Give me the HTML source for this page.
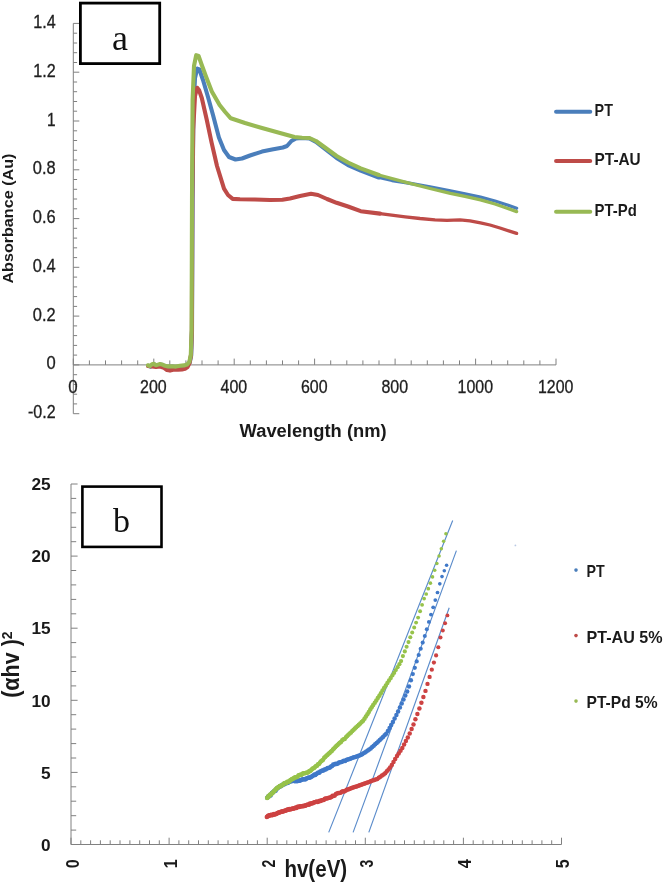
<!DOCTYPE html>
<html><head><meta charset="utf-8"><title>UV-Vis absorbance and Tauc plots</title>
<style>html,body{margin:0;padding:0;background:#fff}body{width:664px;height:883px;overflow:hidden}svg{display:block;filter:blur(0.45px)}text{font-family:"Liberation Sans",sans-serif;fill:#202020;stroke:#202020;stroke-width:0.3px}.b{font-weight:bold;fill:#1a1a1a;stroke:none}.s{font-family:"Liberation Serif",serif;fill:#111;stroke:none}</style></head><body>
<svg width="664" height="883" viewBox="0 0 664 883">
<rect width="664" height="883" fill="#fff"/>
<g stroke="#808080" stroke-width="1" fill="none">
<path d="M73.3 23.4V413.7M73.3 364.9H556.0"/>
<path d="M73.3 413.7h6M73.3 403.9h3.8M73.3 394.2h3.8M73.3 384.4h3.8M73.3 374.7h3.8M73.3 364.9h6M73.3 355.1h3.8M73.3 345.4h3.8M73.3 335.6h3.8M73.3 325.9h3.8M73.3 316.1h6M73.3 306.4h3.8M73.3 296.6h3.8M73.3 286.9h3.8M73.3 277.1h3.8M73.3 267.3h6M73.3 257.6h3.8M73.3 247.8h3.8M73.3 238.1h3.8M73.3 228.3h3.8M73.3 218.6h6M73.3 208.8h3.8M73.3 199.0h3.8M73.3 189.3h3.8M73.3 179.5h3.8M73.3 169.8h6M73.3 160.0h3.8M73.3 150.3h3.8M73.3 140.5h3.8M73.3 130.8h3.8M73.3 121.0h6M73.3 111.2h3.8M73.3 101.5h3.8M73.3 91.7h3.8M73.3 82.0h3.8M73.3 72.2h6M73.3 62.5h3.8M73.3 52.7h3.8M73.3 43.0h3.8M73.3 33.2h3.8M73.3 23.4h6M73.3 364.9v-6.3M89.4 364.9v-4.5M105.5 364.9v-4.5M121.6 364.9v-4.5M137.7 364.9v-4.5M153.8 364.9v-6.3M169.8 364.9v-4.5M185.9 364.9v-4.5M202.0 364.9v-4.5M218.1 364.9v-4.5M234.2 364.9v-6.3M250.3 364.9v-4.5M266.4 364.9v-4.5M282.5 364.9v-4.5M298.6 364.9v-4.5M314.6 364.9v-6.3M330.7 364.9v-4.5M346.8 364.9v-4.5M362.9 364.9v-4.5M379.0 364.9v-4.5M395.1 364.9v-6.3M411.2 364.9v-4.5M427.3 364.9v-4.5M443.4 364.9v-4.5M459.5 364.9v-4.5M475.6 364.9v-6.3M491.6 364.9v-4.5M507.7 364.9v-4.5M523.8 364.9v-4.5M539.9 364.9v-4.5M556.0 364.9v-6.3"/></g>
<text x="33.2" y="27.9" font-size="17.5" textLength="22.4" lengthAdjust="spacingAndGlyphs">1.4</text>
<text x="33.2" y="76.7" font-size="17.5" textLength="22.4" lengthAdjust="spacingAndGlyphs">1.2</text>
<text x="47.0" y="125.5" font-size="17.5" textLength="8.6" lengthAdjust="spacingAndGlyphs">1</text>
<text x="32.8" y="174.3" font-size="17.5" textLength="22.8" lengthAdjust="spacingAndGlyphs">0.8</text>
<text x="32.8" y="223.1" font-size="17.5" textLength="22.8" lengthAdjust="spacingAndGlyphs">0.6</text>
<text x="32.8" y="271.8" font-size="17.5" textLength="22.8" lengthAdjust="spacingAndGlyphs">0.4</text>
<text x="32.8" y="320.6" font-size="17.5" textLength="22.8" lengthAdjust="spacingAndGlyphs">0.2</text>
<text x="46.4" y="369.4" font-size="17.5" textLength="9.2" lengthAdjust="spacingAndGlyphs">0</text>
<text x="28.0" y="418.2" font-size="17.5" textLength="27.6" lengthAdjust="spacingAndGlyphs">-0.2</text>
<text x="68.3" y="393.1" font-size="18" textLength="9.4" lengthAdjust="spacingAndGlyphs">0</text>
<text x="140.1" y="393.1" font-size="18" textLength="26.6" lengthAdjust="spacingAndGlyphs">200</text>
<text x="220.6" y="393.1" font-size="18" textLength="26.6" lengthAdjust="spacingAndGlyphs">400</text>
<text x="301.0" y="393.1" font-size="18" textLength="26.6" lengthAdjust="spacingAndGlyphs">600</text>
<text x="381.5" y="393.1" font-size="18" textLength="26.6" lengthAdjust="spacingAndGlyphs">800</text>
<text x="457.6" y="393.1" font-size="18" textLength="35.4" lengthAdjust="spacingAndGlyphs">1000</text>
<text x="538.0" y="393.1" font-size="18" textLength="35.4" lengthAdjust="spacingAndGlyphs">1200</text>
<text class="b" x="313.1" y="436.6" font-size="18" text-anchor="middle" textLength="147" lengthAdjust="spacingAndGlyphs">Wavelength (nm)</text>
<text class="b" transform="translate(12.8 218.6) rotate(-90)" font-size="14.6" text-anchor="middle" textLength="130" lengthAdjust="spacingAndGlyphs">Absorbance (Au)</text>
<g fill="none" stroke-width="3.6" stroke-linejoin="round" stroke-linecap="round">
<path stroke="#4a7ebb" stroke-width="4.1" d="M148.4 365.9 L150.4 366.6 L152.4 364.9 L154.4 364.4 L156.4 365.9 L158.4 365.2 L160.4 364.6 L162.4 365.0 L165.4 366.4 L168.4 367.0 L172.4 366.9 L176.4 367.2 L180.4 366.4 L184.4 366.0 L187.4 365.2 L189.7 362.6 L191.2 355.6 L192.0 330.6 L192.6 200.0 L193.4 110.0 L195.0 78.0 L197.2 68.6 L199.4 69.5 L203.0 80.0 L208.0 97.0 L213.0 115.0 L218.9 137.5 L224.0 150.0 L229.0 157.0 L235.5 159.5 L242.0 158.5 L250.0 155.5 L262.0 151.6 L272.0 149.5 L282.9 147.5 L287.0 146.0 L291.4 141.0 L296.0 138.5 L302.0 138.0 L309.5 138.5 L316.0 142.0 L325.0 149.0 L336.6 158.0 L348.0 165.0 L360.7 170.5 L378.8 177.5"/>
<path stroke="#4a7ebb" stroke-width="3.3" d="M378.8 177.5 L392.0 180.5 L405.2 182.5 L430.0 186.8 L450.4 190.8 L465.0 193.8 L480.5 197.2 L495.0 201.0 L505.0 204.2 L516.6 208.2"/>
<path stroke="#be4b48" stroke-width="4.1" d="M148.0 366.0 L152.0 366.5 L156.0 367.0 L160.0 366.5 L164.0 367.8 L167.0 370.0 L170.0 370.6 L174.0 369.5 L178.0 369.8 L182.0 369.4 L185.0 368.8 L187.5 367.0 L189.5 363.0 L191.0 355.0 L191.9 330.0 L192.3 200.0 L193.2 130.0 L195.0 96.0 L197.2 87.8 L199.0 90.0 L201.8 98.0 L206.8 120.0 L211.6 142.6 L217.0 166.0 L224.0 188.7 L228.0 195.0 L232.7 198.9 L240.0 199.3 L255.0 199.5 L270.0 200.0 L282.4 199.8 L290.0 198.5 L300.0 196.0 L311.0 193.8 L318.0 195.0 L327.0 199.0 L336.6 202.8 L348.0 206.5 L360.7 211.2 L380.0 213.6"/>
<path stroke="#be4b48" stroke-width="3.3" d="M380.0 213.6 L405.2 216.8 L420.0 218.5 L435.0 219.8 L447.0 220.3 L460.0 219.8 L470.0 220.8 L480.5 222.8 L490.0 225.0 L500.0 228.0 L516.6 233.4"/>
<path stroke="#98b954" stroke-width="4.1" d="M148.0 365.3 L150.0 366.0 L152.0 364.3 L154.0 363.8 L156.0 365.3 L158.0 364.6 L160.0 364.0 L162.0 364.4 L165.0 365.8 L168.0 366.4 L172.0 366.3 L176.0 366.6 L180.0 365.8 L184.0 365.4 L187.0 364.6 L189.3 362.0 L190.8 355.0 L191.6 330.0 L192.0 200.0 L192.6 100.0 L194.0 66.0 L196.2 55.2 L198.6 56.0 L201.4 64.0 L205.8 76.0 L211.8 91.4 L219.6 105.0 L225.2 112.0 L230.8 118.3 L245.0 123.0 L262.0 128.0 L280.0 133.0 L294.5 137.0 L302.0 137.8 L309.5 138.0 L316.0 141.0 L325.0 147.5 L336.6 156.0 L348.0 162.5 L360.7 168.4 L378.8 175.0"/>
<path stroke="#98b954" stroke-width="3.3" d="M378.8 175.0 L405.2 182.2 L430.0 188.5 L450.4 193.3 L465.0 196.3 L480.5 199.8 L495.0 204.0 L505.0 207.5 L516.6 211.6"/>
<path stroke="#4a7ebb" stroke-width="4.1" d="M556.1 111.8H590.2"/>
<path stroke="#be4b48" stroke-width="4.1" d="M556.1 161H590.2"/>
<path stroke="#98b954" stroke-width="4.1" d="M556.1 211.8H590.2"/>
</g>
<text class="b" x="594.6" y="115.8" font-size="17" textLength="18.3" lengthAdjust="spacingAndGlyphs">PT</text>
<text class="b" x="594.6" y="165.4" font-size="17" textLength="46.1" lengthAdjust="spacingAndGlyphs">PT-AU</text>
<text class="b" x="594.6" y="215.6" font-size="17" textLength="42.2" lengthAdjust="spacingAndGlyphs">PT-Pd</text>
<rect x="80.4" y="3.1" width="79.3" height="60.5" fill="#fff" stroke="#000" stroke-width="2.8"/>
<text class="s" x="120" y="49.7" font-size="36" text-anchor="middle">a</text>
<g stroke="#808080" stroke-width="1" fill="none">
<path d="M71.0 484.0V844.5H561.5"/>
<path d="M71.0 844.5h6.6M71.0 830.1h5.2M71.0 815.7h5.2M71.0 801.2h5.2M71.0 786.8h5.2M71.0 772.4h6.6M71.0 758.0h5.2M71.0 743.6h5.2M71.0 729.1h5.2M71.0 714.7h5.2M71.0 700.3h6.6M71.0 685.9h5.2M71.0 671.5h5.2M71.0 657.0h5.2M71.0 642.6h5.2M71.0 628.2h6.6M71.0 613.8h5.2M71.0 599.4h5.2M71.0 584.9h5.2M71.0 570.5h5.2M71.0 556.1h6.6M71.0 541.7h5.2M71.0 527.3h5.2M71.0 512.8h5.2M71.0 498.4h5.2M71.0 484.0h6.6M71.0 844.5v-6.8M80.8 844.5v-4.2M90.6 844.5v-4.2M100.4 844.5v-4.2M110.2 844.5v-4.2M120.0 844.5v-4.2M129.9 844.5v-4.2M139.7 844.5v-4.2M149.5 844.5v-4.2M159.3 844.5v-4.2M169.1 844.5v-6.8M178.9 844.5v-4.2M188.7 844.5v-4.2M198.5 844.5v-4.2M208.3 844.5v-4.2M218.1 844.5v-4.2M228.0 844.5v-4.2M237.8 844.5v-4.2M247.6 844.5v-4.2M257.4 844.5v-4.2M267.2 844.5v-6.8M277.0 844.5v-4.2M286.8 844.5v-4.2M296.6 844.5v-4.2M306.4 844.5v-4.2M316.2 844.5v-4.2M326.1 844.5v-4.2M335.9 844.5v-4.2M345.7 844.5v-4.2M355.5 844.5v-4.2M365.3 844.5v-6.8M375.1 844.5v-4.2M384.9 844.5v-4.2M394.7 844.5v-4.2M404.5 844.5v-4.2M414.3 844.5v-4.2M424.2 844.5v-4.2M434.0 844.5v-4.2M443.8 844.5v-4.2M453.6 844.5v-4.2M463.4 844.5v-6.8M473.2 844.5v-4.2M483.0 844.5v-4.2M492.8 844.5v-4.2M502.6 844.5v-4.2M512.5 844.5v-4.2M522.3 844.5v-4.2M532.1 844.5v-4.2M541.9 844.5v-4.2M551.7 844.5v-4.2M561.5 844.5v-6.8"/></g>
<text class="b" x="41.0" y="850.7" font-size="17" textLength="9.6" lengthAdjust="spacingAndGlyphs">0</text>
<text class="b" x="41.0" y="778.6" font-size="17" textLength="9.6" lengthAdjust="spacingAndGlyphs">5</text>
<text class="b" x="31.4" y="706.5" font-size="17" textLength="19.2" lengthAdjust="spacingAndGlyphs">10</text>
<text class="b" x="31.4" y="634.4" font-size="17" textLength="19.2" lengthAdjust="spacingAndGlyphs">15</text>
<text class="b" x="31.4" y="562.3" font-size="17" textLength="19.2" lengthAdjust="spacingAndGlyphs">20</text>
<text class="b" x="31.4" y="490.2" font-size="17" textLength="19.2" lengthAdjust="spacingAndGlyphs">25</text>
<text class="b" transform="translate(79.4 863.7) rotate(-90) scale(0.9 1)" font-size="18" text-anchor="middle">0</text>
<text class="b" transform="translate(176.5 863.7) rotate(-90) scale(0.9 1)" font-size="18" text-anchor="middle">1</text>
<text class="b" transform="translate(274.6 863.7) rotate(-90) scale(0.78 1)" font-size="18" text-anchor="middle">2</text>
<text class="b" transform="translate(372.7 863.7) rotate(-90) scale(0.78 1)" font-size="18" text-anchor="middle">3</text>
<text class="b" transform="translate(470.8 863.7) rotate(-90) scale(0.9 1)" font-size="18" text-anchor="middle">4</text>
<text class="b" transform="translate(568.9 863.7) rotate(-90) scale(0.9 1)" font-size="18" text-anchor="middle">5</text>
<text class="b" x="284.4" y="876.8" font-size="23" textLength="62.8" lengthAdjust="spacingAndGlyphs">hv(eV)</text>
<text class="b" transform="translate(19.4 697.8) rotate(-90)" font-size="24" textLength="58.6" lengthAdjust="spacingAndGlyphs">(αhv )</text>
<text class="b" transform="translate(12.2 639.3) rotate(-90)" font-size="15" textLength="7.7" lengthAdjust="spacingAndGlyphs">2</text>
<g stroke="#5b8ccb" stroke-width="1.15" fill="none"><path d="M452.7 520.5L328.7 832.4M456.4 550.6L353.1 832.4M449.2 607.8L368.8 832.4"/></g>
<g fill="#3f78c8"><circle cx="446.6" cy="565.3" r="1.77"/><circle cx="444.3" cy="570.7" r="1.79"/><circle cx="442.0" cy="576.6" r="1.81"/><circle cx="439.8" cy="583.8" r="1.83"/><circle cx="437.5" cy="592.5" r="1.87"/><circle cx="435.3" cy="600.1" r="1.89"/><circle cx="433.2" cy="607.3" r="1.92"/><circle cx="431.0" cy="614.6" r="1.95"/><circle cx="428.9" cy="621.9" r="1.97"/><circle cx="426.8" cy="629.2" r="2.0"/><circle cx="424.8" cy="636.0" r="2.02"/><circle cx="422.7" cy="642.6" r="2.04"/><circle cx="420.7" cy="648.8" r="2.07"/><circle cx="418.7" cy="655.0" r="2.09"/><circle cx="416.7" cy="661.4" r="2.11"/><circle cx="414.8" cy="667.8" r="2.13"/><circle cx="412.8" cy="674.1" r="2.16"/><circle cx="410.9" cy="680.3" r="2.18"/><circle cx="409.0" cy="686.5" r="2.2"/><circle cx="407.2" cy="691.5" r="2.22"/><circle cx="405.3" cy="695.4" r="2.23"/><circle cx="403.5" cy="699.4" r="2.25"/><circle cx="401.7" cy="703.5" r="2.25"/><circle cx="399.9" cy="707.5" r="2.25"/><circle cx="398.1" cy="711.5" r="2.25"/><circle cx="396.4" cy="715.0" r="2.25"/><circle cx="394.6" cy="718.4" r="2.25"/><circle cx="392.9" cy="721.9" r="2.25"/><circle cx="391.2" cy="725.0" r="2.25"/><circle cx="389.6" cy="728.0" r="2.25"/><circle cx="387.9" cy="730.9" r="2.25"/><circle cx="386.2" cy="733.7" r="2.25"/><circle cx="384.6" cy="735.3" r="2.25"/><circle cx="383.0" cy="736.9" r="2.25"/><circle cx="381.4" cy="738.5" r="2.25"/><circle cx="379.8" cy="740.0" r="2.25"/><circle cx="378.3" cy="741.5" r="2.25"/><circle cx="376.7" cy="742.9" r="2.25"/><circle cx="375.2" cy="744.3" r="2.25"/><circle cx="373.7" cy="745.7" r="2.25"/><circle cx="372.2" cy="747.1" r="2.25"/><circle cx="370.7" cy="748.4" r="2.25"/><circle cx="369.2" cy="749.4" r="2.25"/><circle cx="367.8" cy="750.5" r="2.25"/><circle cx="366.3" cy="751.5" r="2.25"/><circle cx="364.9" cy="752.5" r="2.25"/><circle cx="363.5" cy="753.3" r="2.25"/><circle cx="362.1" cy="754.2" r="2.25"/><circle cx="360.7" cy="755.0" r="2.25"/><circle cx="359.3" cy="755.5" r="2.25"/><circle cx="358.0" cy="755.9" r="2.25"/><circle cx="356.6" cy="756.4" r="2.25"/><circle cx="355.3" cy="756.9" r="2.25"/><circle cx="354.0" cy="757.3" r="2.25"/><circle cx="352.7" cy="757.8" r="2.25"/><circle cx="351.4" cy="758.3" r="2.25"/><circle cx="350.1" cy="758.7" r="2.25"/><circle cx="348.8" cy="759.2" r="2.25"/><circle cx="347.5" cy="759.6" r="2.25"/><circle cx="346.3" cy="760.1" r="2.25"/><circle cx="345.1" cy="760.9" r="2.25"/><circle cx="343.8" cy="760.7" r="2.25"/><circle cx="342.6" cy="761.6" r="2.25"/><circle cx="341.4" cy="761.9" r="2.25"/><circle cx="340.2" cy="762.3" r="2.25"/><circle cx="339.0" cy="762.6" r="2.25"/><circle cx="337.8" cy="763.4" r="2.25"/><circle cx="336.7" cy="763.9" r="2.25"/><circle cx="335.5" cy="763.8" r="2.25"/><circle cx="334.4" cy="764.6" r="2.25"/><circle cx="333.2" cy="764.6" r="2.25"/><circle cx="332.1" cy="766.0" r="2.25"/><circle cx="331.0" cy="766.5" r="2.25"/><circle cx="329.9" cy="767.6" r="2.25"/><circle cx="328.8" cy="768.0" r="2.25"/><circle cx="327.7" cy="768.0" r="2.25"/><circle cx="326.6" cy="768.7" r="2.25"/><circle cx="325.6" cy="769.6" r="2.25"/><circle cx="324.5" cy="769.4" r="2.25"/><circle cx="323.4" cy="770.4" r="2.25"/><circle cx="322.4" cy="770.6" r="2.25"/><circle cx="321.4" cy="771.1" r="2.25"/><circle cx="320.3" cy="771.5" r="2.25"/><circle cx="319.3" cy="772.8" r="2.25"/><circle cx="318.3" cy="772.6" r="2.25"/><circle cx="317.3" cy="773.3" r="2.25"/><circle cx="316.3" cy="773.9" r="2.25"/><circle cx="315.3" cy="774.9" r="2.25"/><circle cx="314.4" cy="774.5" r="2.25"/><circle cx="313.4" cy="775.4" r="2.25"/><circle cx="312.4" cy="776.0" r="2.25"/><circle cx="311.5" cy="776.8" r="2.25"/><circle cx="310.5" cy="777.2" r="2.25"/><circle cx="309.6" cy="777.7" r="2.25"/><circle cx="308.6" cy="777.5" r="2.25"/><circle cx="307.7" cy="778.1" r="2.25"/><circle cx="306.8" cy="778.3" r="2.25"/><circle cx="305.9" cy="779.1" r="2.25"/><circle cx="305.0" cy="779.5" r="2.25"/><circle cx="304.1" cy="778.9" r="2.25"/><circle cx="303.2" cy="779.2" r="2.25"/><circle cx="302.3" cy="779.5" r="2.25"/><circle cx="301.4" cy="779.8" r="2.25"/><circle cx="300.6" cy="780.3" r="2.25"/><circle cx="299.7" cy="780.7" r="2.25"/><circle cx="298.9" cy="780.6" r="2.25"/><circle cx="298.0" cy="780.5" r="2.25"/><circle cx="297.2" cy="781.2" r="2.25"/><circle cx="296.3" cy="780.9" r="2.25"/><circle cx="295.5" cy="781.0" r="2.25"/><circle cx="294.7" cy="781.2" r="2.25"/><circle cx="293.8" cy="780.8" r="2.25"/><circle cx="293.0" cy="780.8" r="2.25"/><circle cx="292.2" cy="781.0" r="2.25"/><circle cx="291.4" cy="781.2" r="2.25"/><circle cx="290.6" cy="780.6" r="2.25"/><circle cx="289.8" cy="781.8" r="2.25"/><circle cx="289.1" cy="782.1" r="2.25"/><circle cx="288.3" cy="782.6" r="2.25"/><circle cx="287.5" cy="782.9" r="2.25"/><circle cx="286.7" cy="782.8" r="2.25"/><circle cx="286.0" cy="783.3" r="2.25"/><circle cx="285.2" cy="783.3" r="2.25"/><circle cx="284.5" cy="784.3" r="2.25"/><circle cx="283.7" cy="784.1" r="2.25"/><circle cx="283.0" cy="784.6" r="2.25"/><circle cx="282.2" cy="785.2" r="2.25"/><circle cx="281.5" cy="785.6" r="2.25"/><circle cx="280.8" cy="786.2" r="2.25"/><circle cx="280.1" cy="786.3" r="2.25"/><circle cx="279.3" cy="786.7" r="2.25"/><circle cx="278.6" cy="787.3" r="2.25"/><circle cx="277.9" cy="787.7" r="2.25"/><circle cx="277.2" cy="788.6" r="2.25"/><circle cx="276.5" cy="788.8" r="2.25"/><circle cx="275.8" cy="790.4" r="2.25"/><circle cx="275.1" cy="790.7" r="2.25"/><circle cx="274.5" cy="790.8" r="2.25"/><circle cx="273.8" cy="791.5" r="2.25"/><circle cx="273.1" cy="792.2" r="2.25"/><circle cx="272.4" cy="792.8" r="2.25"/><circle cx="271.8" cy="793.1" r="2.25"/><circle cx="271.1" cy="794.5" r="2.25"/><circle cx="270.5" cy="795.4" r="2.25"/><circle cx="269.8" cy="795.4" r="2.25"/><circle cx="269.2" cy="796.1" r="2.25"/><circle cx="268.5" cy="796.3" r="2.25"/><circle cx="267.9" cy="796.9" r="2.25"/><circle cx="267.2" cy="797.8" r="2.25"/></g>
<g fill="#cd4242"><circle cx="447.4" cy="615.4" r="1.95"/><circle cx="445.1" cy="623.3" r="1.98"/><circle cx="442.8" cy="630.6" r="2.0"/><circle cx="440.5" cy="637.5" r="2.03"/><circle cx="438.3" cy="647.3" r="2.06"/><circle cx="436.1" cy="655.4" r="2.09"/><circle cx="433.9" cy="662.6" r="2.12"/><circle cx="431.8" cy="669.7" r="2.14"/><circle cx="429.6" cy="676.9" r="2.17"/><circle cx="427.5" cy="683.9" r="2.19"/><circle cx="425.5" cy="690.9" r="2.22"/><circle cx="423.4" cy="697.1" r="2.24"/><circle cx="421.4" cy="702.8" r="2.25"/><circle cx="419.4" cy="708.5" r="2.25"/><circle cx="417.4" cy="714.0" r="2.25"/><circle cx="415.4" cy="719.2" r="2.25"/><circle cx="413.5" cy="724.4" r="2.25"/><circle cx="411.6" cy="728.9" r="2.25"/><circle cx="409.7" cy="733.4" r="2.25"/><circle cx="407.8" cy="737.4" r="2.25"/><circle cx="405.9" cy="741.0" r="2.25"/><circle cx="404.1" cy="744.6" r="2.25"/><circle cx="402.3" cy="748.0" r="2.25"/><circle cx="400.5" cy="750.7" r="2.25"/><circle cx="398.7" cy="753.4" r="2.25"/><circle cx="397.0" cy="756.0" r="2.25"/><circle cx="395.2" cy="759.0" r="2.25"/><circle cx="393.5" cy="762.1" r="2.25"/><circle cx="391.8" cy="765.0" r="2.25"/><circle cx="390.1" cy="767.6" r="2.25"/><circle cx="388.5" cy="769.5" r="2.25"/><circle cx="386.8" cy="771.3" r="2.25"/><circle cx="385.2" cy="773.2" r="2.25"/><circle cx="383.6" cy="774.5" r="2.25"/><circle cx="382.0" cy="775.6" r="2.25"/><circle cx="380.4" cy="776.7" r="2.25"/><circle cx="378.8" cy="777.8" r="2.25"/><circle cx="377.3" cy="778.9" r="2.25"/><circle cx="375.7" cy="779.4" r="2.25"/><circle cx="374.2" cy="780.0" r="2.25"/><circle cx="372.7" cy="780.6" r="2.25"/><circle cx="371.2" cy="781.1" r="2.25"/><circle cx="369.7" cy="781.7" r="2.25"/><circle cx="368.3" cy="782.2" r="2.25"/><circle cx="366.8" cy="782.8" r="2.25"/><circle cx="365.4" cy="783.3" r="2.25"/><circle cx="364.0" cy="783.8" r="2.25"/><circle cx="362.6" cy="784.3" r="2.25"/><circle cx="361.2" cy="784.8" r="2.25"/><circle cx="359.8" cy="785.3" r="2.25"/><circle cx="358.5" cy="785.7" r="2.25"/><circle cx="357.1" cy="786.2" r="2.25"/><circle cx="355.8" cy="786.7" r="2.25"/><circle cx="354.4" cy="787.1" r="2.25"/><circle cx="353.1" cy="787.6" r="2.25"/><circle cx="351.8" cy="788.0" r="2.25"/><circle cx="350.5" cy="788.5" r="2.25"/><circle cx="349.2" cy="788.9" r="2.25"/><circle cx="348.0" cy="789.4" r="2.25"/><circle cx="346.7" cy="789.8" r="2.25"/><circle cx="345.5" cy="790.8" r="2.25"/><circle cx="344.2" cy="791.4" r="2.25"/><circle cx="343.0" cy="791.3" r="2.25"/><circle cx="341.8" cy="791.8" r="2.25"/><circle cx="340.6" cy="792.8" r="2.25"/><circle cx="339.4" cy="793.1" r="2.25"/><circle cx="338.2" cy="793.1" r="2.25"/><circle cx="337.1" cy="793.5" r="2.25"/><circle cx="335.9" cy="794.1" r="2.25"/><circle cx="334.8" cy="795.5" r="2.25"/><circle cx="333.6" cy="795.9" r="2.25"/><circle cx="332.5" cy="795.7" r="2.25"/><circle cx="331.4" cy="797.0" r="2.25"/><circle cx="330.3" cy="797.6" r="2.25"/><circle cx="329.2" cy="797.8" r="2.25"/><circle cx="328.1" cy="798.0" r="2.25"/><circle cx="327.0" cy="798.6" r="2.25"/><circle cx="325.9" cy="798.5" r="2.25"/><circle cx="324.9" cy="798.7" r="2.25"/><circle cx="323.8" cy="800.1" r="2.25"/><circle cx="322.8" cy="800.1" r="2.25"/><circle cx="321.7" cy="800.3" r="2.25"/><circle cx="320.7" cy="801.1" r="2.25"/><circle cx="319.7" cy="800.8" r="2.25"/><circle cx="318.7" cy="801.6" r="2.25"/><circle cx="317.7" cy="801.9" r="2.25"/><circle cx="316.7" cy="801.6" r="2.25"/><circle cx="315.7" cy="801.9" r="2.25"/><circle cx="314.7" cy="802.3" r="2.25"/><circle cx="313.7" cy="802.5" r="2.25"/><circle cx="312.8" cy="803.2" r="2.25"/><circle cx="311.8" cy="803.2" r="2.25"/><circle cx="310.8" cy="803.7" r="2.25"/><circle cx="309.9" cy="803.6" r="2.25"/><circle cx="309.0" cy="804.8" r="2.25"/><circle cx="308.0" cy="804.5" r="2.25"/><circle cx="307.1" cy="804.8" r="2.25"/><circle cx="306.2" cy="805.2" r="2.25"/><circle cx="305.3" cy="805.8" r="2.25"/><circle cx="304.4" cy="805.5" r="2.25"/><circle cx="303.5" cy="806.3" r="2.25"/><circle cx="302.6" cy="806.0" r="2.25"/><circle cx="301.7" cy="806.3" r="2.25"/><circle cx="300.9" cy="806.5" r="2.25"/><circle cx="300.0" cy="806.2" r="2.25"/><circle cx="299.1" cy="806.9" r="2.25"/><circle cx="298.3" cy="806.8" r="2.25"/><circle cx="297.5" cy="806.8" r="2.25"/><circle cx="296.6" cy="807.9" r="2.25"/><circle cx="295.8" cy="807.4" r="2.25"/><circle cx="294.9" cy="808.0" r="2.25"/><circle cx="294.1" cy="808.5" r="2.25"/><circle cx="293.3" cy="808.5" r="2.25"/><circle cx="292.5" cy="808.4" r="2.25"/><circle cx="291.7" cy="808.9" r="2.25"/><circle cx="290.9" cy="809.1" r="2.25"/><circle cx="290.1" cy="809.6" r="2.25"/><circle cx="289.3" cy="809.0" r="2.25"/><circle cx="288.5" cy="809.7" r="2.25"/><circle cx="287.8" cy="809.6" r="2.25"/><circle cx="287.0" cy="809.8" r="2.25"/><circle cx="286.2" cy="810.6" r="2.25"/><circle cx="285.5" cy="810.5" r="2.25"/><circle cx="284.7" cy="810.7" r="2.25"/><circle cx="284.0" cy="811.1" r="2.25"/><circle cx="283.2" cy="811.5" r="2.25"/><circle cx="282.5" cy="811.3" r="2.25"/><circle cx="281.8" cy="811.7" r="2.25"/><circle cx="281.0" cy="811.8" r="2.25"/><circle cx="280.3" cy="812.1" r="2.25"/><circle cx="279.6" cy="812.5" r="2.25"/><circle cx="278.9" cy="812.5" r="2.25"/><circle cx="278.2" cy="812.8" r="2.25"/><circle cx="277.5" cy="813.0" r="2.25"/><circle cx="276.8" cy="813.8" r="2.25"/><circle cx="276.1" cy="813.7" r="2.25"/><circle cx="275.4" cy="814.2" r="2.25"/><circle cx="274.7" cy="814.5" r="2.25"/><circle cx="274.0" cy="813.9" r="2.25"/><circle cx="273.3" cy="814.5" r="2.25"/><circle cx="272.7" cy="815.1" r="2.25"/><circle cx="272.0" cy="815.3" r="2.25"/><circle cx="271.3" cy="814.7" r="2.25"/><circle cx="270.7" cy="814.9" r="2.25"/><circle cx="270.0" cy="815.5" r="2.25"/><circle cx="269.4" cy="815.3" r="2.25"/><circle cx="268.7" cy="815.7" r="2.25"/><circle cx="268.1" cy="815.7" r="2.25"/><circle cx="267.5" cy="816.6" r="2.25"/><circle cx="266.8" cy="816.9" r="2.25"/></g>
<g fill="#96c24a"><circle cx="445.9" cy="533.7" r="1.75"/><circle cx="443.6" cy="541.3" r="1.75"/><circle cx="441.3" cy="548.7" r="1.75"/><circle cx="439.1" cy="556.1" r="1.75"/><circle cx="436.9" cy="563.4" r="1.76"/><circle cx="434.7" cy="570.3" r="1.79"/><circle cx="432.5" cy="576.9" r="1.81"/><circle cx="430.4" cy="583.2" r="1.83"/><circle cx="428.3" cy="588.7" r="1.85"/><circle cx="426.2" cy="594.0" r="1.87"/><circle cx="424.1" cy="598.6" r="1.89"/><circle cx="422.1" cy="604.8" r="1.91"/><circle cx="420.1" cy="611.3" r="1.93"/><circle cx="418.1" cy="617.6" r="1.96"/><circle cx="416.1" cy="622.6" r="1.97"/><circle cx="414.2" cy="627.6" r="1.99"/><circle cx="412.2" cy="632.5" r="2.01"/><circle cx="410.3" cy="637.3" r="2.03"/><circle cx="408.5" cy="642.1" r="2.04"/><circle cx="406.6" cy="646.8" r="2.06"/><circle cx="404.8" cy="651.4" r="2.08"/><circle cx="402.9" cy="656.1" r="2.09"/><circle cx="401.1" cy="661.1" r="2.11"/><circle cx="399.4" cy="664.2" r="2.12"/><circle cx="397.6" cy="667.2" r="2.13"/><circle cx="395.8" cy="670.1" r="2.14"/><circle cx="394.1" cy="672.9" r="2.15"/><circle cx="392.4" cy="675.4" r="2.16"/><circle cx="390.7" cy="678.0" r="2.17"/><circle cx="389.0" cy="680.5" r="2.18"/><circle cx="387.4" cy="683.0" r="2.19"/><circle cx="385.8" cy="685.5" r="2.2"/><circle cx="384.1" cy="687.9" r="2.21"/><circle cx="382.5" cy="690.5" r="2.22"/><circle cx="380.9" cy="693.2" r="2.23"/><circle cx="379.4" cy="695.7" r="2.23"/><circle cx="377.8" cy="698.1" r="2.24"/><circle cx="376.3" cy="700.4" r="2.25"/><circle cx="374.8" cy="702.7" r="2.25"/><circle cx="373.2" cy="705.0" r="2.25"/><circle cx="371.7" cy="707.3" r="2.25"/><circle cx="370.3" cy="709.6" r="2.25"/><circle cx="368.8" cy="711.9" r="2.25"/><circle cx="367.4" cy="714.3" r="2.25"/><circle cx="365.9" cy="716.6" r="2.25"/><circle cx="364.5" cy="718.8" r="2.25"/><circle cx="363.1" cy="720.7" r="2.25"/><circle cx="361.7" cy="722.0" r="2.25"/><circle cx="360.3" cy="723.4" r="2.25"/><circle cx="358.9" cy="724.7" r="2.25"/><circle cx="357.6" cy="726.0" r="2.25"/><circle cx="356.2" cy="727.3" r="2.25"/><circle cx="354.9" cy="728.6" r="2.25"/><circle cx="353.6" cy="729.8" r="2.25"/><circle cx="352.3" cy="731.1" r="2.25"/><circle cx="351.0" cy="732.4" r="2.25"/><circle cx="349.7" cy="733.6" r="2.25"/><circle cx="348.4" cy="734.8" r="2.25"/><circle cx="347.2" cy="736.0" r="2.25"/><circle cx="345.9" cy="737.3" r="2.25"/><circle cx="344.7" cy="738.9" r="2.25"/><circle cx="343.5" cy="739.3" r="2.25"/><circle cx="342.2" cy="740.3" r="2.25"/><circle cx="341.0" cy="741.9" r="2.25"/><circle cx="339.8" cy="742.8" r="2.25"/><circle cx="338.7" cy="743.8" r="2.25"/><circle cx="337.5" cy="744.9" r="2.25"/><circle cx="336.3" cy="745.9" r="2.25"/><circle cx="335.2" cy="747.2" r="2.25"/><circle cx="334.0" cy="748.4" r="2.25"/><circle cx="332.9" cy="749.5" r="2.25"/><circle cx="331.8" cy="751.1" r="2.25"/><circle cx="330.7" cy="751.7" r="2.25"/><circle cx="329.6" cy="753.0" r="2.25"/><circle cx="328.5" cy="753.8" r="2.25"/><circle cx="327.4" cy="755.0" r="2.25"/><circle cx="326.3" cy="755.7" r="2.25"/><circle cx="325.2" cy="757.0" r="2.25"/><circle cx="324.2" cy="757.8" r="2.25"/><circle cx="323.1" cy="759.7" r="2.25"/><circle cx="322.1" cy="760.5" r="2.25"/><circle cx="321.1" cy="761.2" r="2.25"/><circle cx="320.0" cy="762.5" r="2.25"/><circle cx="319.0" cy="764.0" r="2.25"/><circle cx="318.0" cy="764.2" r="2.25"/><circle cx="317.0" cy="765.8" r="2.25"/><circle cx="316.0" cy="766.1" r="2.25"/><circle cx="315.0" cy="766.9" r="2.25"/><circle cx="314.1" cy="768.1" r="2.25"/><circle cx="313.1" cy="768.3" r="2.25"/><circle cx="312.1" cy="769.1" r="2.25"/><circle cx="311.2" cy="770.0" r="2.25"/><circle cx="310.2" cy="771.0" r="2.25"/><circle cx="309.3" cy="771.0" r="2.25"/><circle cx="308.4" cy="772.2" r="2.25"/><circle cx="307.4" cy="772.5" r="2.25"/><circle cx="306.5" cy="772.8" r="2.25"/><circle cx="305.6" cy="772.9" r="2.25"/><circle cx="304.7" cy="773.2" r="2.25"/><circle cx="303.8" cy="773.2" r="2.25"/><circle cx="302.9" cy="773.6" r="2.25"/><circle cx="302.1" cy="773.9" r="2.25"/><circle cx="301.2" cy="775.0" r="2.25"/><circle cx="300.3" cy="774.8" r="2.25"/><circle cx="299.5" cy="775.1" r="2.25"/><circle cx="298.6" cy="775.3" r="2.25"/><circle cx="297.7" cy="776.5" r="2.25"/><circle cx="296.9" cy="776.9" r="2.25"/><circle cx="296.1" cy="777.2" r="2.25"/><circle cx="295.2" cy="777.3" r="2.25"/><circle cx="294.4" cy="777.7" r="2.25"/><circle cx="293.6" cy="778.2" r="2.25"/><circle cx="292.8" cy="778.9" r="2.25"/><circle cx="292.0" cy="779.0" r="2.25"/><circle cx="291.2" cy="779.8" r="2.25"/><circle cx="290.4" cy="780.1" r="2.25"/><circle cx="289.6" cy="781.3" r="2.25"/><circle cx="288.8" cy="781.8" r="2.25"/><circle cx="288.0" cy="781.7" r="2.25"/><circle cx="287.3" cy="781.8" r="2.25"/><circle cx="286.5" cy="783.1" r="2.25"/><circle cx="285.7" cy="782.8" r="2.25"/><circle cx="285.0" cy="783.3" r="2.25"/><circle cx="284.2" cy="783.3" r="2.25"/><circle cx="283.5" cy="784.2" r="2.25"/><circle cx="282.7" cy="784.8" r="2.25"/><circle cx="282.0" cy="785.2" r="2.25"/><circle cx="281.3" cy="785.4" r="2.25"/><circle cx="280.6" cy="786.2" r="2.25"/><circle cx="279.8" cy="786.1" r="2.25"/><circle cx="279.1" cy="786.8" r="2.25"/><circle cx="278.4" cy="787.0" r="2.25"/><circle cx="277.7" cy="787.9" r="2.25"/><circle cx="277.0" cy="788.1" r="2.25"/><circle cx="276.3" cy="788.7" r="2.25"/><circle cx="275.6" cy="789.6" r="2.25"/><circle cx="274.9" cy="790.2" r="2.25"/><circle cx="274.3" cy="791.1" r="2.25"/><circle cx="273.6" cy="791.7" r="2.25"/><circle cx="272.9" cy="792.5" r="2.25"/><circle cx="272.2" cy="793.0" r="2.25"/><circle cx="271.6" cy="793.7" r="2.25"/><circle cx="270.9" cy="794.5" r="2.25"/><circle cx="270.3" cy="794.6" r="2.25"/><circle cx="269.6" cy="795.1" r="2.25"/><circle cx="269.0" cy="796.5" r="2.25"/><circle cx="268.3" cy="796.2" r="2.25"/><circle cx="267.7" cy="797.5" r="2.25"/><circle cx="267.1" cy="798.0" r="2.25"/></g>
<circle cx="576" cy="570.1" r="1.8" fill="#4a7ebb"/>
<text class="b" x="586.5" y="577.0" font-size="17" textLength="18.2" lengthAdjust="spacingAndGlyphs">PT</text>
<circle cx="576" cy="635.6" r="1.8" fill="#be4b48"/>
<text class="b" x="586.5" y="642.5" font-size="17" textLength="76" lengthAdjust="spacingAndGlyphs">PT-AU 5%</text>
<circle cx="576" cy="701.1" r="1.8" fill="#98b954"/>
<text class="b" x="586.5" y="708.0" font-size="17" textLength="71" lengthAdjust="spacingAndGlyphs">PT-Pd 5%</text>
<circle cx="515.4" cy="545.4" r="0.9" fill="#b9c9e4"/>
<rect x="82.4" y="486.6" width="79.1" height="60.3" fill="#fff" stroke="#000" stroke-width="2.6"/>
<text class="s" x="121.5" y="532.3" font-size="34" text-anchor="middle">b</text>
</svg></body></html>
